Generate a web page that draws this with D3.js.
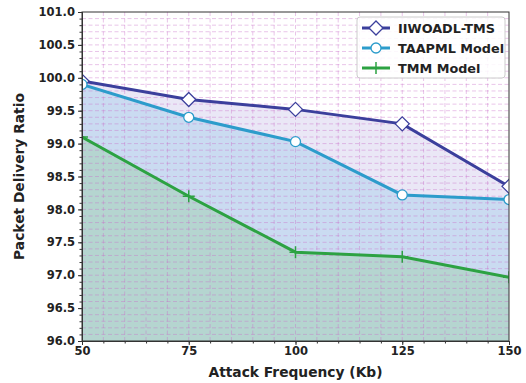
<!DOCTYPE html>
<html>
<head>
<meta charset="utf-8">
<script src="https://cdn.jsdelivr.net/npm/d3@7"></script>
<style>
  body { margin: 0; background: #fff; }
  svg text { font-family: "DejaVu Sans", sans-serif; font-weight: bold; fill: #222; }
</style>
</head>
<body>
<svg id="chart" width="526" height="383"></svg>
<script>
// Attack frequency (Kb) along x
const frequencies = [50, 75, 100, 125, 150];
const iiwoadlTms = [99.95, 99.67, 99.52, 99.30, 98.35];
const taapml = [99.90, 99.40, 99.03, 98.22, 98.15];
const tmm = [99.10, 98.20, 97.35, 97.28, 96.97];
const xTicks = [50, 75, 100, 125, 150];
const yTicks = [96.0, 96.5, 97.0, 97.5, 98.0, 98.5, 99.0, 99.5, 100.0, 100.5, 101.0];

const series = [
  { name: "IIWOADL-TMS", values: iiwoadlTms, color: "#3b3f9c", fill: "rgba(185,175,225,0.30)", marker: "diamond" },
  { name: "TAAPML Model", values: taapml, color: "#2c9ccb", fill: "rgba(150,200,235,0.38)", marker: "circle" },
  { name: "TMM Model", values: tmm, color: "#2ca242", fill: "rgba(150,205,160,0.40)", marker: "plus" }
];

const svg = d3.select("#chart");
const m = { left: 82, right: 17, top: 12, bottom: 42 };
const W = 526, H = 383;
const x = d3.scaleLinear().domain([50, 150]).range([m.left, W - m.right]);
const y = d3.scaleLinear().domain([96, 101]).range([H - m.bottom, m.top]);

svg.append("defs").append("clipPath").attr("id", "plotClip")
  .append("rect").attr("x", m.left).attr("y", m.top)
  .attr("width", W - m.left - m.right).attr("height", H - m.top - m.bottom);

const plot = svg.append("g").attr("clip-path", "url(#plotClip)");

// filled areas under each series
const area = d3.area().x((d, i) => x(frequencies[i])).y0(y(96)).y1(d => y(d));
series.forEach(s => {
  plot.append("path").datum(s.values).attr("d", area).attr("fill", s.fill);
});

// dashed grid: every 5 Kb and every 0.1 ratio
const gridColor = "rgba(200,110,200,0.5)";
d3.range(55, 150, 5).forEach(v => {
  plot.append("line").attr("x1", x(v)).attr("x2", x(v)).attr("y1", y(96)).attr("y2", y(101))
    .attr("stroke", gridColor).attr("stroke-width", 0.8).attr("stroke-dasharray", "4,2.5");
});
d3.range(1, 50).forEach(k => {
  const v = 96 + k * 0.1;
  plot.append("line").attr("x1", x(50)).attr("x2", x(150)).attr("y1", y(v)).attr("y2", y(v))
    .attr("stroke", gridColor).attr("stroke-width", 0.8).attr("stroke-dasharray", "4,2.5");
});

// lines and markers
const line = d3.line().x((d, i) => x(frequencies[i])).y(d => y(d));
function drawMarker(g, type, cx, cy, color) {
  if (type === "diamond") {
    g.append("path").attr("d", `M${cx},${cy-7}L${cx+7},${cy}L${cx},${cy+7}L${cx-7},${cy}Z`)
      .attr("fill", "#fff").attr("stroke", color).attr("stroke-width", 1.3);
  } else if (type === "circle") {
    g.append("circle").attr("cx", cx).attr("cy", cy).attr("r", 5)
      .attr("fill", "#fff").attr("stroke", color).attr("stroke-width", 1.3);
  } else {
    g.append("path").attr("d", `M${cx-6},${cy}H${cx+6}M${cx},${cy-6}V${cy+6}`)
      .attr("stroke", color).attr("stroke-width", 1.5);
  }
}
series.forEach(s => {
  plot.append("path").datum(s.values).attr("d", line)
    .attr("fill", "none").attr("stroke", s.color).attr("stroke-width", 3);
  s.values.forEach((v, i) => drawMarker(plot, s.marker, x(frequencies[i]), y(v), s.color));
});

// frame
svg.append("rect").attr("x", m.left).attr("y", m.top)
  .attr("width", W - m.left - m.right).attr("height", H - m.top - m.bottom)
  .attr("fill", "none").attr("stroke", "#333").attr("stroke-width", 1);

// axes
const xAxis = d3.axisBottom(x).tickValues(xTicks).tickFormat(d3.format("d")).tickSize(4).tickPadding(2);
const gx = svg.append("g").attr("transform", `translate(0,${H - m.bottom})`).call(xAxis);
svg.append("g").attr("transform", `translate(0,${H - m.bottom})`)
  .call(d3.axisBottom(x).tickValues(d3.range(50, 151, 5)).tickFormat("").tickSize(2.5));
const yAxis = d3.axisLeft(y).tickValues(yTicks).tickFormat(d3.format(".1f")).tickSize(4).tickPadding(3);
const gy = svg.append("g").attr("transform", `translate(${m.left},0)`).call(yAxis);
svg.append("g").attr("transform", `translate(${m.left},0)`)
  .call(d3.axisLeft(y).tickValues(d3.range(0, 51).map(k => 96 + k * 0.1)).tickFormat("").tickSize(2.5));
svg.selectAll(".domain").attr("stroke", "#333");
svg.selectAll(".tick line").attr("stroke", "#333");
gx.selectAll("text").style("font-size", "11.5px");
gy.selectAll("text").style("font-size", "11.5px");

// axis titles
svg.append("text").attr("x", (m.left + W - m.right) / 2).attr("y", 377)
  .attr("text-anchor", "middle").style("font-size", "13.8px").text("Attack Frequency (Kb)");
svg.append("text").attr("transform", `translate(24,${(m.top + H - m.bottom) / 2}) rotate(-90)`)
  .attr("text-anchor", "middle").style("font-size", "13.8px").text("Packet Delivery Ratio");

// legend
const lg = svg.append("g").attr("transform", "translate(357,17)");
lg.append("rect").attr("width", 148).attr("height", 61).attr("rx", 3)
  .attr("fill", "rgba(255,255,255,0.85)").attr("stroke", "#ccc");
series.forEach((s, i) => {
  const cy = 11 + i * 20;
  lg.append("line").attr("x1", 5).attr("x2", 33).attr("y1", cy).attr("y2", cy)
    .attr("stroke", s.color).attr("stroke-width", 3);
  drawMarker(lg, s.marker, 19, cy, s.color);
  lg.append("text").attr("x", 41).attr("y", cy + 4.5).style("font-size", "12.8px").text(s.name);
});
</script>
</body>
</html>
